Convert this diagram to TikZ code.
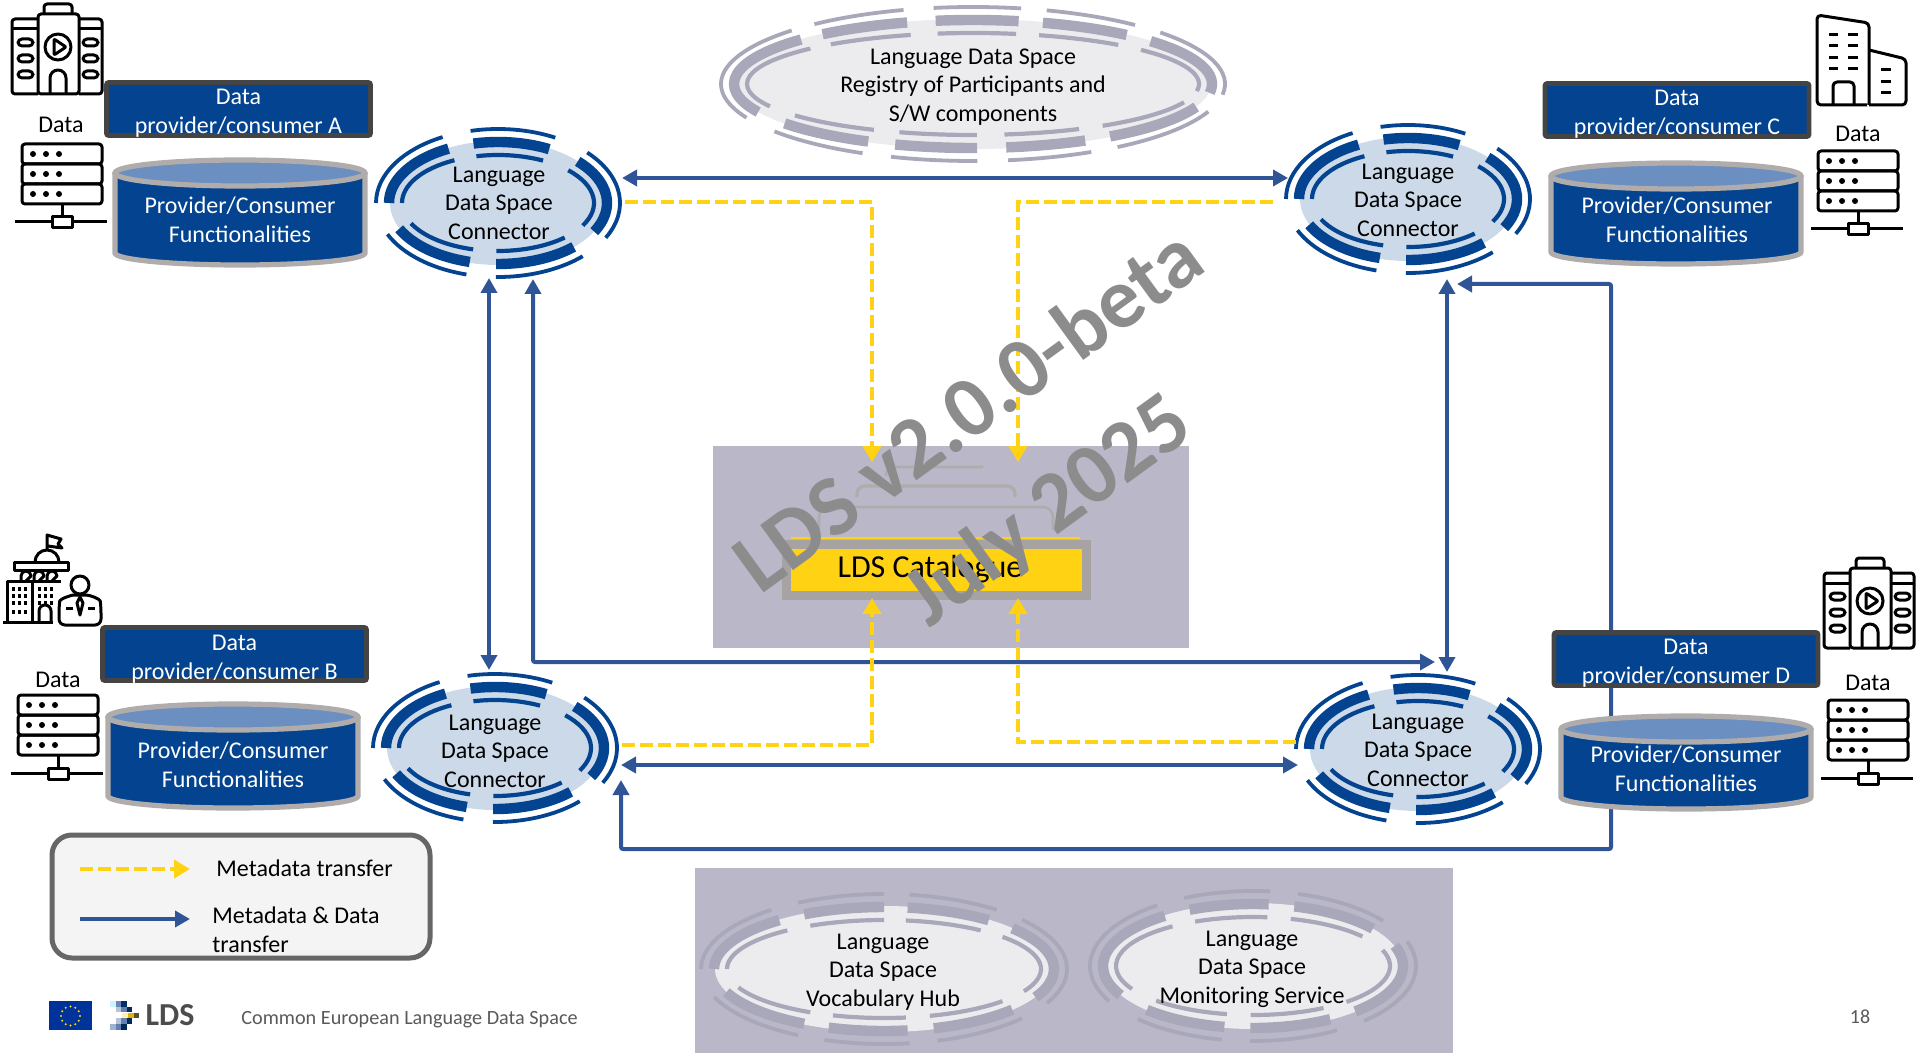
\documentclass[tikz,border=0pt]{standalone}
\usepackage{fontspec}
\setmainfont{Carlito}
\usepackage{tikz}
\usetikzlibrary{arrows.meta}
\definecolor{navybox}{HTML}{03438F}
\definecolor{edgedark}{HTML}{444444}
\definecolor{cylgrey}{HTML}{B0ACAC}
\definecolor{cyltop}{HTML}{6A8FC0}
\definecolor{connlight}{HTML}{CBD9E9}
\definecolor{panelgrey}{HTML}{B9B7C8}
\definecolor{ringgrey}{HTML}{A8A8BA}
\definecolor{ringlight}{HTML}{ECECEF}
\definecolor{metayellow}{HTML}{FFD313}
\definecolor{linkblue}{HTML}{2F5597}
\definecolor{wmgrey}{HTML}{8C8C8C}
\definecolor{eublue}{HTML}{003399}
\tikzset{
    conntext/.style={align=center,inner sep=0pt,font=\fontsize{12}{14.3}\selectfont},
    titlebox/.style={draw=edgedark,fill=navybox,line width=2.3pt,rounded corners=1pt,minimum width=132pt,minimum height=26.5pt,inner sep=0pt},
    titletext/.style={conntext,text=white},
    functext/.style={conntext,text=white},
    plain/.style={inner sep=0pt,font=\fontsize{12}{14.3}\selectfont},
    linkarrow/.style={draw=linkblue,line width=2pt,{Triangle[length=7.5pt,width=8pt]}-{Triangle[length=7.5pt,width=8pt]}},
    metaarrow/.style={draw=metayellow,line width=2.3pt,dash pattern=on 6.5pt off 2.5pt,-{Triangle[length=8pt,width=9pt]}},
    icon/.style={draw=black,line width=1.5pt,line join=round},
    pics/videohall/.style={code={
        \draw[icon,rounded corners=1.5pt] (26,10) rectangle (67,90);
        \draw[icon,rounded corners=1.5pt] (32,10) -- (32,0) -- (60,0) -- (60,10);
        \draw[icon,rounded corners=1.5pt] (26,15) -- (0,15) -- (0,90) -- (26,90);
        \draw[icon,rounded corners=1.5pt] (67,15) -- (90,15) -- (90,90) -- (67,90);
        \draw[icon] (0,25) -- (26,25) (67,25) -- (90,25);
        \foreach \wy in {35,51,67} {
            \draw[icon,rounded corners=2pt] (6,\wy) rectangle (21,\wy+7);
            \draw[icon,rounded corners=2pt] (71,\wy) rectangle (86,\wy+7);
        }
        \draw[icon] (46,43) circle [radius=6.5pt];
        \draw[icon,rounded corners=0.5pt] (42,35) -- (54,43) -- (42,51) -- cycle;
        \draw[icon] (38,90) -- (38,74) arc[start angle=180,end angle=0,radius=4pt] -- (54,90);
    }},
    pics/serverrack/.style={code={
        \foreach \ry in {0,20,40} {
            \draw[icon,rounded corners=1.5pt] (0,\ry) rectangle (80,\ry+20);
            \foreach \dx in {11,24,37} \fill (\dx,\ry+10) circle [radius=1.5pt];
        }
        \draw[icon] (40,60) -- (40,73);
        \draw[icon] (30,73) rectangle (50,84);
        \draw[icon] (-7,78) -- (30,78) (50,78) -- (85,78);
    }},
    pics/officeblock/.style={code={
        \draw[icon,rounded corners=2pt] (50,90) -- (0,90) -- (0,0) -- (52,8) -- (52,90);
        \draw[icon,rounded corners=2pt] (52,35) -- (89,44) -- (89,90) -- (52,90);
        \foreach \wy in {20,31,43,54} {
            \draw[icon] (12,\wy) -- (21,\wy) (31,\wy) -- (41,\wy);
        }
        \foreach \wy in {55,67,78} \draw[icon] (64,\wy) -- (74,\wy);
        \draw[icon,rounded corners=2pt] (16,90) -- (16,67) -- (37,67) -- (37,90);
    }},
    pics/govperson/.style={code={
        \draw[icon] (44,15) -- (44,0) -- (58,4) -- (55,9) -- (59,13) -- (45,11);
        \draw[icon] (32,27) arc[start angle=180,end angle=0,x radius=6pt,y radius=6pt];
        \draw[icon] (11,27) -- (65,27) -- (65,35) -- (11,35) -- cycle;
        \foreach \ax in {18,31,44} {
            \draw[icon] (\ax,46) -- (\ax,41) arc[start angle=180,end angle=0,radius=2.5pt] -- (\ax+5,46);
        }
        \draw[icon] (4,87) -- (4,46) -- (58,46);
        \draw[icon] (0,87) -- (50,87);
        \draw[icon] (29,46) -- (29,87);
        \draw[icon] (36,87) -- (36,76) arc[start angle=180,end angle=0,radius=3pt] -- (48,87);
        \foreach \wx in {9,15,21,35,41,47} {
            \foreach \wy in {52,59,66} \fill (\wx,\wy) rectangle (\wx+3,\wy+4);
        }
        \foreach \wx in {9,15,21} \fill (\wx,75) rectangle (\wx+3,79);
        \draw[icon] (77,50) circle [radius=4.5pt];
        \draw[fill=white,icon,rounded corners=3pt] (56,90) -- (56,72) .. controls (57,64) and (68,60) .. (77,60) .. controls (87,60) and (97,64) .. (98,72) -- (98,90) -- cycle;
        \draw[icon] (77,62) -- (74,68) -- (77,80) -- (80,68) -- cycle;
        \draw[icon] (63,73) -- (70,73) (85,73) -- (92,73);
    }},
    pics/ldsmark/.style={code={
        \fill[blue!20!cyan!20] (0,0) rectangle +(5.5,5.5);
        \fill[linkblue!70] (5.5,0) rectangle +(5.5,5.5);
        \fill[navybox!70!black] (11,0) rectangle +(5.5,5.5);
        \fill[linkblue!35] (5.5,5.8) rectangle +(5.5,5.5);
        \fill[linkblue!75] (11,5.8) rectangle +(5.5,5.5);
        \fill[navybox!60!black] (16.5,5.8) rectangle +(5.5,5.5);
        \fill[metayellow!35] (11.5,11.6) rectangle +(6,5.8);
        \fill[metayellow!85!black] (17.5,11.6) rectangle +(6,5.8);
        \fill[olive!50!black] (23.5,11.6) rectangle +(5,5.8);
        \fill[linkblue!35] (5.5,17.4) rectangle +(5.5,5.8);
        \fill[linkblue!75] (11,17.4) rectangle +(5.5,5.8);
        \fill[navybox!60!black] (16.5,17.4) rectangle +(5.5,5.8);
        \fill[linkblue!45] (0,23.2) rectangle +(5.5,5.8);
        \fill[linkblue!75] (5.5,23.2) rectangle +(5.5,5.8);
        \fill[navybox!60!black] (11,23.2) rectangle +(5.5,5.8);
    }}
}
% connector rings, all radii in picture units
\newcommand{\ringset}[7]{%
    \fill[#6] (#1,#2) ellipse [x radius={(#3-14)*0.5pt},y radius={(#4-12)*0.5pt}];
    \foreach \sa/\sb in {#7} {
        \draw[#5,line width=1.9pt] ({#1+#3*cos(\sa)},{#2-#4*sin(\sa)}) arc[start angle=\sa,end angle=\sb,x radius={#3*0.5pt},y radius={#4*0.5pt}];
        \draw[#5,line width=5.2pt] ({#1+(#3-13)*cos(\sa)},{#2-(#4-13)*sin(\sa)}) arc[start angle=\sa,end angle=\sb,x radius={(#3-13)*0.5pt},y radius={(#4-13)*0.5pt}];
        \draw[#5,line width=2.1pt] ({#1+(#3-26)*cos(\sa)},{#2-(#4-26)*sin(\sa)}) arc[start angle=\sa,end angle=\sb,x radius={(#3-26)*0.5pt},y radius={(#4-26)*0.5pt}];
    }
}
% provider cylinder: centre x, top, bottom
\newcommand{\provcyl}[3]{%
    \draw[fill=navybox,draw=cylgrey,line width=2.6pt] (#1-125,#2+15) -- (#1-125,#3-14) arc[start angle=180,end angle=360,x radius=62.5pt,y radius=6pt] -- (#1+125,#2+15);
    \draw[fill=cyltop,draw=cylgrey,line width=2.6pt] (#1,#2+15) ellipse [x radius=62.5pt,y radius=6.5pt];
}
\begin{document}
\begin{tikzpicture}[x=0.5pt,y=-0.5pt]
    \useasboundingbox (0,0) rectangle (1920,1053);
    % grey panels
    \fill[panelgrey] (713,446) rectangle (1189,648);
    \fill[panelgrey] (695,868) rectangle (1453,1053);
    % catalogue stack
    \draw[cylgrey,line width=1.3pt,rounded corners=4pt] (886,476) -- (886,467) -- (983,467);
    \draw[cylgrey,line width=1.6pt,rounded corners=4pt] (857,497) -- (857,486) -- (1015,486) -- (1015,497);
    \draw[cylgrey,line width=1.3pt,rounded corners=5pt] (819,530) -- (819,507) -- (1053,507) -- (1053,530);
    \draw[metayellow,line width=1pt] (791,538) -- (1080,538);
    \node[rectangle,draw=cylgrey!95!black,fill=metayellow,line width=4.5pt,minimum width=150pt,minimum height=25.5pt,inner sep=0pt,font=\fontsize{16}{18}\selectfont] (catalogue) at (936,569.5) {\hspace{-6pt}LDS Catalogue};
    % registry and the two services
    \ringset{973}{84}{252}{77}{ringgrey}{ringlight}{99/79,73/50,42/-8,-21/-55,-62/-82,-89/-109,-116/-142,206/136,129/106}
    \node[conntext] (registry) at (973,87) {Language Data Space\\Registry of Participants and\\S/W components};
    \ringset{884}{969}{183}{75}{ringgrey}{ringlight}{118/90,82/52,41/-27,-41/-73,-82/-109,-118/-158,180/128}
    \node[conntext] (vochub) at (883,972) {Language\\Data Space\\Vocabulary Hub};
    \ringset{1253}{966}{163}{75}{ringgrey}{ringlight}{115/84,74/37,19/-47,-59/-91,-101/-135,208/126}
    \node[conntext] (monitor) at (1252,969) {Language\\Data Space\\Monitoring Service};
    % connectors
    \ringset{498}{203}{122}{74}{navybox}{connlight}{103/62,43/-28,-46/-91,-105/-155,180/117}
    \node[conntext] (connA) at (499,203) {Language\\Data Space\\Connector};
    \ringset{495}{748}{122}{74}{navybox}{connlight}{103/62,43/-28,-46/-91,-105/-155,180/117}
    \node[conntext] (connB) at (495,751) {Language\\Data Space\\Connector};
    \ringset{1408}{199}{122}{74}{navybox}{connlight}{103/62,43/-28,-46/-91,-105/-155,180/117}
    \node[conntext] (connC) at (1408,200) {Language\\Data Space\\Connector};
    \ringset{1418}{749}{122}{74}{navybox}{connlight}{103/62,43/-28,-46/-91,-105/-155,180/117}
    \node[conntext] (connD) at (1418,750) {Language\\Data Space\\Connector};
    % free ends next to the connectors
    \coordinate (endAe) at ([shift={(123,-25)}]connA.center);
    \coordinate (endCw) at ([shift={(-120,-22)}]connC.center);
    \coordinate (endAs) at ([shift={(-10,75)}]connA.center);
    \coordinate (endBn) at ([shift={(-6,-81)}]connB.center);
    \coordinate (endAr) at ([shift={(34,76)}]connA.center);
    \coordinate (endDw) at ([shift={(17,-88)}]connD.center);
    \coordinate (cornerAD) at (533,662);
    \coordinate (endCs) at ([shift={(39,79)}]connC.center);
    \coordinate (endDn) at ([shift={(29,-78)}]connD.center);
    \coordinate (endCr) at ([shift={(49,84)}]connC.center);
    \coordinate (cornerCr) at (1611,284);
    \coordinate (cornerDr) at (1611,849);
    \coordinate (cornerBr) at (621,849);
    \coordinate (endBs) at ([shift={(126,29)}]connB.center);
    \coordinate (endBe) at ([shift={(126,14)}]connB.center);
    \coordinate (endDe) at ([shift={(-120,15)}]connD.center);
    \coordinate (metaAs) at ([shift={(126,-1)}]connA.center);
    \coordinate (metaAc) at (872,202);
    \coordinate (metaCs) at ([shift={(-135,2)}]connC.center);
    \coordinate (metaCc) at (1018,202);
    \coordinate (metaBs) at ([shift={(127,-6)}]connB.center);
    \coordinate (metaBc) at (872,745);
    \coordinate (metaDs) at ([shift={(-122,-8)}]connD.center);
    \coordinate (metaDc) at (1018,742);
    \coordinate (catTopL) at (872,462);
    \coordinate (catTopR) at (1018,462);
    \coordinate (catBotL) at (872,598);
    \coordinate (catBotR) at (1018,598);
    % arrows
    \draw[linkarrow] (endAe) -- (endCw);
    \draw[linkarrow] (endAs) -- (endBn);
    \draw[linkarrow,rounded corners=1pt] (endAr) -- (cornerAD) -- (endDw);
    \draw[linkarrow] (endCs) -- (endDn);
    \draw[linkarrow,rounded corners=1pt] (endCr) -- (cornerCr) -- (cornerDr) -- (cornerBr) -- (endBs);
    \draw[linkarrow] (endBe) -- (endDe);
    \draw[metaarrow] (metaAs) -- (metaAc) -- (catTopL);
    \draw[metaarrow] (metaCs) -- (metaCc) -- (catTopR);
    \draw[metaarrow] (metaBs) -- (metaBc) -- (catBotL);
    \draw[metaarrow] (metaDs) -- (metaDc) -- (catBotR);
    % providers
    \node[titlebox] (provA) at (238.5,109) {};
    \node[titletext] (titleA) at (238.5,113) {Data\\provider/consumer A};
    \provcyl{240}{158}{267}
    \node[functext] (funcA) at (240,220) {Provider/Consumer\\Functionalities};
    \node[titlebox] (provB) at (234.5,654) {};
    \node[titletext] (titleB) at (234.5,659) {Data\\provider/consumer B};
    \provcyl{233}{702}{810}
    \node[functext] (funcB) at (233,765) {Provider/Consumer\\Functionalities};
    \node[titlebox] (provC) at (1677,110) {};
    \node[titletext] (titleC) at (1677,114) {Data\\provider/consumer C};
    \provcyl{1676}{161}{266}
    \node[functext] (funcC) at (1677,220) {Provider/Consumer\\Functionalities};
    \node[titlebox] (provD) at (1686,659) {};
    \node[titletext] (titleD) at (1686,663) {Data\\provider/consumer D};
    \provcyl{1686}{714}{811}
    \node[functext] (funcD) at (1686,769) {Provider/Consumer\\Functionalities};
    % icons and data stores
    \pic at (12,4) {videohall};
    \pic at (1824,558) {videohall};
    \pic at (1817,15) {officeblock};
    \pic at (3,535) {govperson};
    \pic at (22,144) {serverrack};
    \pic at (18,695) {serverrack};
    \pic at (1818,151) {serverrack};
    \pic at (1828,700) {serverrack};
    \node[plain] (dataA) at (61,125) {Data};
    \node[plain] (dataB) at (58,680) {Data};
    \node[plain] (dataC) at (1858,134) {Data};
    \node[plain] (dataD) at (1868,683) {Data};
    % legend
    \draw[draw=black!60,fill=ringlight!60,line width=2.5pt,rounded corners=10pt] (52,835) rectangle (430,958);
    \coordinate (legYa) at (80,869);
    \coordinate (legYb) at (190,869);
    \coordinate (legBa) at (80,919);
    \coordinate (legBb) at (190,919);
    \draw[metaarrow] (legYa) -- (legYb);
    \draw[draw=linkblue,line width=2pt,-{Triangle[length=7.5pt,width=8pt]}] (legBa) -- (legBb);
    \node[plain,anchor=west] (legmeta) at (216,868) {Metadata transfer};
    \node[plain,anchor=west,align=left] (legdata) at (212,930) {Metadata \& Data\\transfer};
    % footer
    \fill[eublue] (49,1001) rectangle (92,1030);
    \foreach \ang in {0,30,...,330} \fill[metayellow] ([shift={(\ang:9.5)}]70.5,1016) circle [radius=0.6pt];
    \pic at (110,1001) {ldsmark};
    \node[inner sep=0pt,text=black!70,font=\fontsize{16}{18}\bfseries\selectfont] (ldsname) at (170,1015) {LDS};
    \node[inner sep=0pt,text=black!65,anchor=west,font=\fontsize{10.1}{12}\selectfont] (footer) at (241,1020) {Common European Language Data Space};
    \node[inner sep=0pt,text=black!65,font=\fontsize{10}{12}\selectfont] (pageno) at (1860,1017) {18};
    % watermark
    \node[inner sep=0pt,rotate=36,text=wmgrey,font=\fontsize{43}{48}\bfseries\selectfont] (wmA) at (967,408) {LDS v2.0.0-beta};
    \node[inner sep=0pt,rotate=36,text=wmgrey,font=\fontsize{43}{48}\bfseries\selectfont] (wmB) at (1049,512) {July 2025};
\end{tikzpicture}
\end{document}
